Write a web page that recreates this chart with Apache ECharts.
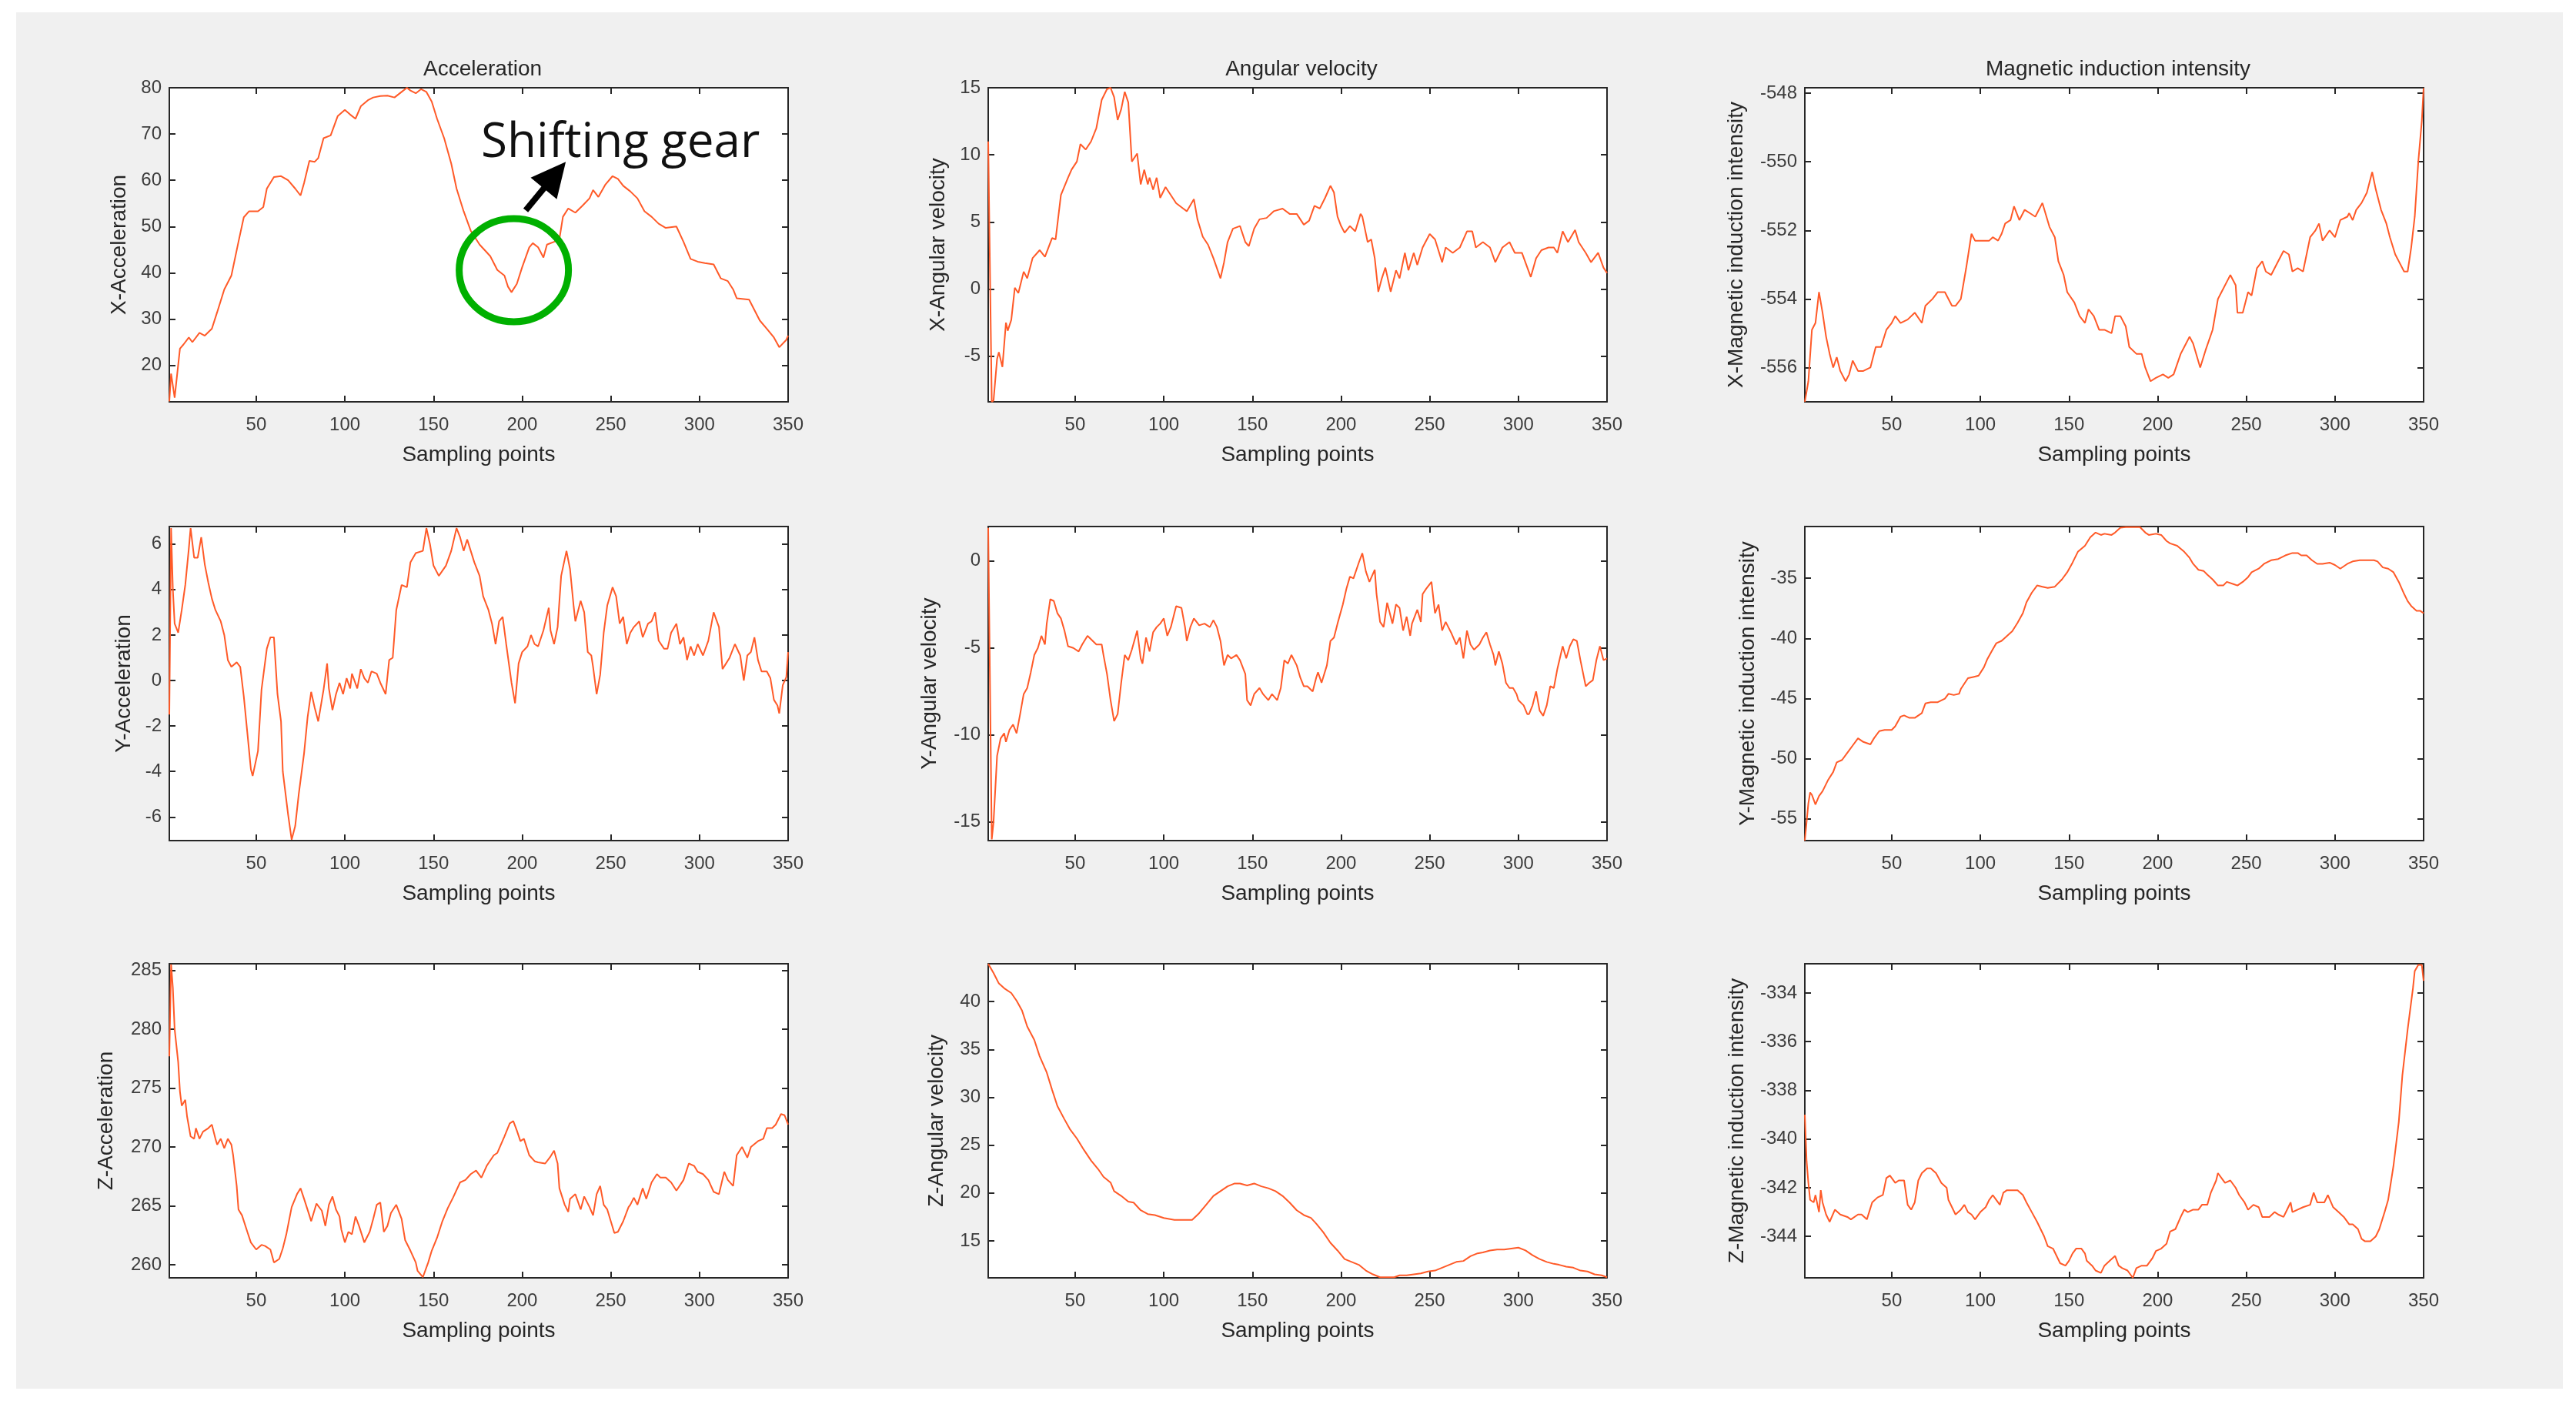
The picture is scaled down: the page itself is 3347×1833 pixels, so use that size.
<!DOCTYPE html>
<html><head><meta charset="utf-8">
<script src="https://cdn.jsdelivr.net/npm/echarts@6/dist/echarts.min.js"></script>
<style>
html,body{margin:0;padding:0;background:#fff;width:3347px;height:1833px;overflow:hidden}
#bg{position:absolute;left:21px;top:16px;width:3309px;height:1788px;background:#f0f0f0}
#chart{position:absolute;left:0;top:0;width:3347px;height:1833px}
</style></head><body><div id="bg"></div><div id="chart"></div>
<script>
// ---------------- data (sampling point, value) ----------------
const sampleTicks = [50,100,150,200,250,300,350];
const columnTitles = ['Acceleration','Angular velocity','Magnetic induction intensity'];
const yNames = ['X-Acceleration','X-Angular velocity','X-Magnetic induction intensity',
                'Y-Acceleration','Y-Angular velocity','Y-Magnetic induction intensity',
                'Z-Acceleration','Z-Angular velocity','Z-Magnetic induction intensity'];

const ticksAccX = [20,30,40,50,60,70,80];
const ticksAngX = [-5,0,5,10,15];
const ticksMagX = [-556,-554,-552,-550,-548];
const ticksAccY = [-6,-4,-2,0,2,4,6];
const ticksAngY = [-15,-10,-5,0];
const ticksMagY = [-55,-50,-45,-40,-35];
const ticksAccZ = [260,265,270,275,280,285];
const ticksAngZ = [15,20,25,30,35,40];
const ticksMagZ = [-344,-342,-340,-338,-336,-334];

const rangeAccX = [12.1, 80];
const rangeAngX = [-8.4, 15];
const rangeMagX = [-557, -547.84];
const rangeAccY = [-7.04, 6.77];
const rangeAngY = [-16.07, 1.98];
const rangeMagY = [-56.8, -30.7];
const rangeAccZ = [258.9, 285.55];
const rangeAngZ = [11.14, 43.96];
const rangeMagZ = [-345.7, -332.8];

const accX = [[1,12.2],[2,18.2],[4,13],[7,23.6],[9,24.5],[12,26],[14,25],[18,27],[21,26.4],[25,27.9],[28,31.5],[32,36.4],[36,39.4],[40,46.7],[43,52],[46,53.3],[51,53.3],[54,54.2],[56,58.2],[60,60.7],[64,60.9],[68,60],[72,58.2],[75,56.7],[77,59.4],[80,64.2],[83,64],[85,64.8],[88,69.1],[92,69.7],[96,73.9],[100,75.2],[103,74.2],[106,73.3],[109,76],[113,77.3],[116,77.9],[120,78.2],[124,78.3],[128,77.9],[132,79.1],[135,80],[137,79.4],[140,78.8],[143,79.7],[146,79.1],[149,77],[152,73.3],[156,69.1],[160,63.6],[163,58.2],[167,53.3],[171,49.1],[176,46.1],[182,43.6],[186,40.6],[190,39.4],[192,37],[194,35.8],[197,37.6],[200,41.2],[204,45.5],[206,46.4],[209,45.5],[212,43.3],[214,46.1],[218,46.7],[221,47.3],[223,52.1],[226,53.9],[230,53],[234,54.5],[238,56.1],[240,57.9],[243,56.4],[247,59.1],[251,60.9],[254,60.3],[257,58.8],[261,57.6],[265,56.1],[269,53.3],[273,52.1],[277,50.6],[281,49.7],[287,50],[291,46.7],[295,43],[299,42.4],[303,42.1],[308,41.8],[312,38.8],[316,38.2],[319,36.4],[321,34.5],[328,34.2],[330,32.7],[334,29.7],[338,27.9],[342,26],[345,23.9],[349,25.5],[350,26.4]];

const angX = [[1,11],[3,-8.4],[4,-8.3],[6,-5.2],[7,-4.7],[9,-5.8],[11,-2.5],[12,-3.1],[14,-2.3],[16,0.1],[18,-0.3],[21,1.3],[23,0.8],[26,2.3],[30,2.9],[33,2.4],[37,3.8],[39,3.7],[42,7],[46,8.3],[48,8.9],[51,9.5],[53,10.8],[56,10.4],[59,11],[62,12],[65,14.1],[68,14.9],[70,15],[72,14.3],[74,12.6],[76,13.4],[78,14.7],[80,13.9],[82,9.5],[85,10.1],[87,7.8],[89,8.9],[91,7.8],[92,8.3],[94,7.4],[96,8.3],[98,6.8],[101,7.6],[104,7],[107,6.4],[111,6],[113,5.8],[117,6.7],[119,5.2],[122,3.9],[125,3.3],[128,2.3],[132,0.8],[134,2],[136,3.5],[139,4.5],[143,4.7],[146,3.5],[148,3.2],[151,4.5],[154,5.2],[158,5.3],[162,5.8],[167,6],[171,5.6],[175,5.6],[179,4.8],[182,5.1],[185,6.2],[188,6],[191,6.8],[194,7.7],[196,7.2],[198,5.4],[200,4.7],[202,4.2],[205,4.7],[208,4.3],[211,5.6],[212,5.4],[215,3.5],[217,3.7],[219,2.3],[221,-0.2],[223,0.8],[225,1.6],[228,-0.2],[231,1.4],[233,0.8],[236,2.7],[238,1.4],[241,2.7],[243,1.8],[246,3.1],[250,4.1],[253,3.7],[257,2],[259,3.1],[263,2.7],[267,3.1],[271,4.3],[274,4.3],[276,3.1],[280,3.5],[284,3.1],[287,2],[291,3.1],[295,3.5],[298,2.7],[302,2.7],[307,0.9],[310,2.3],[313,2.9],[317,3.1],[320,3.1],[322,2.7],[325,4.3],[328,3.5],[332,4.4],[334,3.5],[338,2.7],[341,2],[345,2.7],[348,1.6],[350,1.2]];

const magX = [[1,-557],[3,-556.4],[5,-554.9],[7,-554.7],[9,-553.8],[11,-554.4],[13,-555.1],[15,-555.6],[17,-556],[19,-555.7],[21,-556.1],[24,-556.4],[26,-556.2],[28,-555.8],[31,-556.1],[34,-556.1],[38,-556],[41,-555.4],[44,-555.4],[47,-554.9],[50,-554.7],[52,-554.5],[55,-554.7],[59,-554.6],[63,-554.4],[67,-554.7],[69,-554.2],[73,-554],[76,-553.8],[80,-553.8],[84,-554.2],[86,-554.2],[89,-554],[92,-553.1],[95,-552.1],[97,-552.3],[99,-552.3],[102,-552.3],[105,-552.3],[107,-552.2],[110,-552.3],[112,-552.1],[114,-551.8],[117,-551.7],[119,-551.3],[122,-551.7],[125,-551.4],[128,-551.5],[131,-551.6],[135,-551.2],[139,-551.9],[142,-552.2],[144,-552.9],[147,-553.3],[149,-553.8],[153,-554.1],[156,-554.5],[159,-554.7],[161,-554.3],[164,-554.5],[167,-554.9],[170,-554.9],[174,-555],[176,-554.5],[179,-554.5],[182,-554.8],[184,-555.4],[188,-555.6],[191,-555.6],[193,-556],[196,-556.4],[199,-556.3],[203,-556.2],[206,-556.3],[209,-556.2],[213,-555.6],[215,-555.4],[218,-555.1],[220,-555.3],[224,-556],[227,-555.5],[231,-554.9],[234,-554],[236,-553.8],[239,-553.5],[241,-553.3],[244,-553.6],[245,-554.4],[248,-554.4],[251,-553.8],[253,-553.9],[256,-553.1],[259,-552.9],[261,-553.2],[264,-553.3],[267,-553],[271,-552.6],[274,-552.7],[276,-553.2],[279,-553.1],[282,-553.2],[286,-552.2],[289,-552],[291,-551.8],[293,-552.3],[297,-552],[300,-552.2],[303,-551.7],[307,-551.6],[308,-551.5],[310,-551.7],[312,-551.4],[315,-551.2],[318,-550.9],[321,-550.3],[323,-550.8],[326,-551.4],[329,-551.8],[331,-552.2],[334,-552.7],[336,-552.9],[339,-553.2],[341,-553.2],[343,-552.5],[345,-551.6],[347,-550],[349,-548.8],[350,-547.85]];

const accY = [[1,-1.5],[2,6.7],[3,4],[4,2.5],[6,2.1],[8,3.1],[10,4.2],[12,5.8],[13,6.7],[15,5.4],[17,5.4],[19,6.3],[21,5.1],[23,4.3],[25,3.6],[27,3.1],[30,2.6],[32,2],[34,0.9],[36,0.6],[39,0.8],[41,0.6],[43,-0.7],[45,-2.3],[47,-3.9],[48,-4.2],[51,-3.1],[53,-0.4],[56,1.4],[58,1.9],[60,1.9],[62,-0.6],[64,-1.8],[65,-4],[68,-5.9],[70,-7],[72,-6.4],[74,-5],[77,-3.2],[79,-1.6],[81,-0.5],[83,-1.2],[85,-1.8],[88,-0.4],[90,0.75],[91,-0.35],[93,-1.3],[95,-0.6],[97,-0.1],[99,-0.6],[101,0.1],[103,-0.35],[104,0.3],[107,-0.35],[109,0.5],[111,0.1],[113,-0.1],[115,0.4],[118,0.3],[120,-0.1],[123,-0.6],[125,0.9],[127,1],[129,3.1],[132,4.2],[135,4.1],[137,5.2],[140,5.6],[144,5.7],[146,6.7],[148,6],[150,5.05],[153,4.6],[157,5.05],[160,5.7],[163,6.7],[165,6.3],[167,5.7],[169,6.2],[171,5.7],[173,5.2],[176,4.6],[178,3.7],[181,3.1],[183,2.5],[185,1.6],[187,2.6],[189,2.8],[191,1.6],[194,-0.1],[196,-1],[198,0.75],[200,1.25],[203,1.5],[205,2],[207,1.6],[209,1.5],[212,2.2],[215,3.2],[216,2.2],[218,1.6],[220,2.35],[222,4.6],[225,5.7],[227,4.9],[229,3.3],[230,2.6],[233,3.5],[235,3],[237,1.25],[239,1.1],[240,0.6],[242,-0.6],[244,0.25],[246,2.1],[248,3.3],[251,4.1],[253,3.7],[255,2.5],[257,2.8],[259,1.6],[261,2.1],[263,2.35],[266,2.6],[268,1.9],[271,2.5],[273,2.6],[275,3],[277,1.75],[280,1.4],[282,1.4],[284,2.1],[287,2.5],[289,1.6],[291,1.9],[293,0.9],[295,1.5],[297,1.1],[299,1.6],[302,1.1],[305,1.75],[308,3],[311,2.35],[313,0.5],[315,0.75],[317,1],[320,1.6],[323,1.1],[325,0],[327,1.1],[329,1.25],[331,1.9],[333,0.9],[335,0.4],[338,0.4],[340,0.1],[342,-0.85],[344,-1.1],[345,-1.45],[347,-0.2],[349,0.15],[350,1.25]];

const angY = [[1,1.9],[3,-16],[4,-15],[5,-13.1],[6,-11.2],[8,-10.2],[10,-9.9],[11,-10.4],[13,-9.7],[15,-9.4],[17,-9.9],[19,-8.8],[21,-7.65],[23,-7.3],[25,-6.4],[27,-5.4],[29,-5],[31,-4.3],[33,-4.8],[34,-3.6],[36,-2.2],[38,-2.3],[40,-3],[42,-3.3],[44,-4],[46,-4.9],[49,-5],[52,-5.2],[54,-4.8],[57,-4.3],[59,-4.5],[62,-4.8],[65,-4.8],[66,-5.4],[68,-6.5],[70,-8],[72,-9.2],[74,-8.8],[76,-7],[78,-5.4],[80,-5.7],[82,-5.1],[85,-4],[87,-5.6],[88,-5.9],[90,-4.4],[92,-5.2],[94,-4.1],[96,-3.8],[98,-3.6],[100,-3.3],[102,-4.3],[104,-3.8],[106,-3],[107,-2.6],[110,-2.7],[112,-3.8],[113,-4.6],[115,-3.8],[117,-3.3],[120,-3.7],[123,-3.6],[126,-3.8],[128,-3.4],[130,-3.8],[132,-4.6],[134,-6],[136,-5.4],[138,-5.6],[141,-5.4],[143,-5.7],[146,-6.5],[147,-8],[149,-8.3],[151,-7.65],[154,-7.3],[156,-7.65],[159,-8],[161,-7.65],[164,-8],[166,-7.3],[168,-5.7],[170,-5.9],[172,-5.4],[175,-6],[177,-6.7],[179,-7.2],[181,-7.2],[184,-7.5],[186,-6.7],[187,-6.4],[189,-7],[192,-6],[194,-4.6],[196,-4.4],[198,-3.6],[201,-2.5],[203,-1.6],[205,-0.9],[207,-1],[210,-0.1],[212,0.45],[214,-0.6],[216,-1.2],[219,-0.5],[220,-1.9],[222,-3.5],[224,-3.8],[226,-2.4],[227,-2.8],[229,-3.6],[231,-2.5],[233,-2.7],[235,-4],[237,-3.2],[239,-4.3],[240,-3.6],[243,-2.8],[245,-3.5],[246,-1.9],[248,-1.6],[251,-1.2],[253,-3],[255,-2.5],[257,-4],[259,-3.5],[262,-4.1],[265,-4.8],[267,-4.4],[269,-5.6],[271,-4],[273,-4.8],[275,-5.1],[278,-4.8],[280,-4.4],[282,-4.1],[284,-4.8],[286,-5.4],[287,-6],[289,-5.2],[291,-5.9],[293,-7],[295,-7.3],[297,-7.3],[299,-7.65],[300,-8],[303,-8.3],[305,-8.8],[306,-8.8],[308,-8.3],[310,-7.5],[312,-8.6],[314,-8.9],[316,-8.3],[318,-7.2],[320,-7.3],[322,-6.2],[325,-4.9],[327,-5.6],[329,-4.9],[331,-4.5],[333,-4.6],[335,-5.7],[338,-7.2],[340,-7],[342,-6.85],[344,-5.7],[346,-4.9],[348,-5.7],[350,-5.6]];

const magY = [[1,-56.8],[3,-53.7],[4,-52.8],[5,-53],[7,-53.8],[9,-53.1],[11,-52.7],[14,-51.8],[17,-51.1],[19,-50.3],[22,-50.1],[25,-49.5],[28,-48.9],[31,-48.3],[34,-48.6],[38,-48.8],[40,-48.3],[43,-47.7],[46,-47.6],[50,-47.6],[52,-47.3],[55,-46.5],[57,-46.4],[60,-46.6],[63,-46.6],[67,-46.2],[69,-45.4],[72,-45.3],[76,-45.3],[80,-45],[82,-44.6],[85,-44.7],[88,-44.6],[89,-44.2],[93,-43.3],[96,-43.2],[99,-43.1],[102,-42.4],[104,-41.7],[107,-40.9],[109,-40.4],[112,-40.2],[115,-39.8],[118,-39.4],[121,-38.7],[124,-37.9],[126,-37],[129,-36.2],[132,-35.6],[135,-35.7],[138,-35.8],[142,-35.7],[146,-35.1],[149,-34.5],[152,-33.7],[155,-32.8],[159,-32.3],[162,-31.6],[165,-31.2],[168,-31.4],[170,-31.3],[174,-31.4],[176,-31.2],[179,-30.8],[182,-30.75],[186,-30.75],[190,-30.75],[193,-31.2],[195,-31.4],[199,-31.3],[202,-31.4],[205,-31.9],[207,-32.1],[211,-32.3],[215,-32.8],[218,-33.3],[220,-33.8],[223,-34.3],[226,-34.4],[228,-34.7],[231,-35.1],[234,-35.6],[237,-35.6],[239,-35.3],[243,-35.5],[245,-35.6],[248,-35.3],[251,-34.9],[253,-34.5],[257,-34.2],[260,-33.8],[264,-33.5],[268,-33.4],[272,-33.1],[276,-32.9],[279,-32.9],[281,-33.1],[284,-33.1],[287,-33.5],[290,-33.8],[293,-33.8],[297,-33.7],[300,-33.9],[303,-34.2],[307,-33.8],[310,-33.6],[314,-33.5],[318,-33.5],[322,-33.5],[324,-33.6],[327,-34.1],[330,-34.2],[333,-34.5],[336,-35.3],[339,-36.3],[341,-36.9],[343,-37.3],[346,-37.7],[348,-37.7],[350,-37.9]];

const accZ = [[1,277.7],[2,285.5],[3,283.5],[4,280],[6,277.2],[7,274.7],[8,273.5],[10,274],[11,272.6],[13,270.9],[15,270.7],[16,271.6],[18,270.7],[20,271.3],[23,271.6],[25,271.9],[27,270.7],[28,270.2],[30,270.7],[32,269.9],[34,270.7],[36,270.2],[37,269.3],[39,266.7],[40,264.7],[42,264.2],[45,262.8],[47,261.9],[50,261.3],[53,261.7],[55,261.6],[58,261.3],[60,260.2],[63,260.5],[65,261.4],[67,262.6],[70,264.9],[73,266],[75,266.5],[77,265.6],[80,264.2],[81,263.7],[84,265.2],[87,264.6],[89,263.3],[91,265.1],[93,265.8],[95,264.7],[97,264.1],[98,263],[100,261.9],[102,262.8],[104,262.6],[106,264.1],[108,263.3],[111,261.9],[114,262.8],[116,263.9],[118,265.1],[120,265.3],[122,262.8],[124,263.3],[126,264.4],[129,265.1],[132,263.9],[134,262.1],[137,261.2],[140,260.2],[141,259.5],[144,258.95],[147,260.2],[149,261.2],[152,262.3],[155,263.7],[158,264.8],[161,265.7],[165,267],[168,267.2],[171,267.7],[174,268],[177,267.4],[180,268.4],[184,269.3],[186,269.5],[190,270.9],[193,272],[195,272.2],[197,271.4],[199,270.5],[201,270.7],[204,269.3],[207,268.8],[209,268.7],[213,268.6],[216,269.2],[218,269.7],[220,268.6],[221,266.5],[224,265.1],[226,264.5],[227,265.6],[230,266],[233,264.7],[235,265.8],[238,264.9],[240,264.2],[242,266],[244,266.7],[246,265.1],[248,264.7],[250,263.7],[252,262.7],[254,262.8],[257,263.7],[260,264.9],[261,265.1],[263,265.7],[265,265.1],[268,266.5],[270,265.6],[273,267],[276,267.7],[278,267.4],[281,267.4],[284,267],[287,266.3],[291,267.2],[294,268.6],[297,268.4],[299,267.9],[302,267.7],[305,267.2],[308,266.2],[311,266],[314,267.9],[316,267.2],[319,266.7],[321,269.3],[324,270],[327,269.1],[329,270],[333,270.5],[336,270.7],[338,271.6],[341,271.6],[343,271.9],[346,272.8],[348,272.7],[350,271.9]];

const angZ = [[1,43.95],[4,43],[7,41.9],[10,41.4],[14,40.9],[17,40.1],[20,39.1],[23,37.4],[27,36],[30,34.3],[34,32.6],[37,30.8],[40,29.1],[44,27.7],[47,26.7],[51,25.7],[55,24.5],[59,23.4],[63,22.5],[66,21.7],[70,21.1],[72,20.2],[76,19.7],[80,19.1],[83,19],[87,18.2],[91,17.8],[95,17.7],[100,17.4],[106,17.2],[111,17.2],[116,17.2],[120,17.9],[124,18.8],[128,19.7],[132,20.2],[136,20.7],[140,21],[143,21],[147,20.8],[151,21],[155,20.7],[159,20.5],[163,20.2],[167,19.7],[171,19],[175,18.2],[179,17.7],[183,17.4],[186,16.8],[190,15.9],[194,14.8],[198,14],[202,13.1],[206,12.8],[210,12.5],[214,11.9],[218,11.5],[222,11.2],[226,11.2],[230,11.2],[233,11.4],[237,11.4],[241,11.5],[245,11.6],[249,11.8],[253,11.9],[257,12.2],[261,12.5],[265,12.8],[269,12.9],[273,13.4],[277,13.7],[280,13.8],[284,14],[288,14.1],[292,14.1],[296,14.2],[300,14.3],[304,14],[308,13.5],[312,13.1],[316,12.8],[320,12.6],[323,12.5],[327,12.3],[331,12.2],[335,11.9],[339,11.8],[343,11.5],[347,11.4],[350,11.2]];

const magZ = [[1,-339],[2,-340.9],[3,-341.8],[4,-342.5],[6,-342.6],[7,-342.3],[9,-343],[10,-342.1],[11,-342.6],[13,-343.1],[15,-343.4],[18,-342.9],[21,-343.1],[25,-343.2],[27,-343.3],[31,-343.1],[33,-343.1],[36,-343.3],[39,-342.6],[42,-342.4],[45,-342.3],[47,-341.6],[49,-341.5],[52,-341.8],[54,-341.7],[57,-341.7],[59,-342.7],[61,-342.9],[63,-342.6],[65,-341.7],[67,-341.4],[70,-341.2],[72,-341.2],[75,-341.4],[78,-341.8],[81,-342],[82,-342.5],[84,-342.8],[86,-343.1],[89,-342.9],[91,-342.7],[93,-343],[95,-343.1],[97,-343.3],[100,-343],[103,-342.8],[105,-342.5],[107,-342.3],[109,-342.5],[111,-342.7],[113,-342.2],[115,-342.1],[118,-342.1],[121,-342.1],[124,-342.3],[126,-342.6],[129,-343],[132,-343.4],[134,-343.7],[136,-344],[138,-344.4],[141,-344.5],[143,-344.8],[145,-345.1],[148,-345.2],[150,-345],[152,-344.7],[154,-344.5],[157,-344.5],[159,-344.7],[160,-345],[163,-345.2],[165,-345.4],[168,-345.5],[170,-345.2],[173,-345],[176,-344.8],[178,-345.2],[180,-345.3],[183,-345.4],[186,-345.7],[188,-345.3],[191,-345.2],[194,-345.2],[197,-344.9],[199,-344.6],[202,-344.5],[205,-344.3],[207,-343.8],[210,-343.7],[213,-343.2],[215,-342.9],[217,-343],[220,-342.9],[223,-342.9],[225,-342.7],[228,-342.7],[230,-342.2],[233,-341.7],[234,-341.4],[236,-341.6],[238,-341.8],[241,-341.7],[244,-342],[246,-342.3],[249,-342.6],[251,-342.9],[254,-342.7],[257,-342.8],[259,-343.2],[263,-343.2],[266,-343],[268,-343.1],[271,-343.2],[273,-342.9],[275,-342.6],[276,-343],[279,-342.9],[282,-342.8],[286,-342.7],[288,-342.2],[290,-342.6],[294,-342.6],[296,-342.3],[299,-342.8],[302,-343],[305,-343.2],[308,-343.5],[310,-343.5],[313,-343.7],[315,-344.1],[317,-344.2],[320,-344.2],[323,-344],[325,-343.7],[328,-343],[330,-342.5],[333,-341.1],[336,-339.3],[338,-337.4],[341,-335.5],[344,-333.8],[345,-333.1],[347,-332.85],[349,-332.85],[350,-333.5]];

// annotation anchors in data coordinates of the first panel
const gearCircleCenter = [195.3, 40.56];
const gearArrowTail = [202, 53.5];
const gearArrowTip = [224.6, 64.0];
const gearTextAnchor = [176.8, 68.0];
const gearText = 'Shifting gear';

// ---------------- layout / build ----------------
const panelData = [accX, angX, magX, accY, angY, magY, accZ, angZ, magZ];
const panelTicks = [ticksAccX, ticksAngX, ticksMagX, ticksAccY, ticksAngY, ticksMagY, ticksAccZ, ticksAngZ, ticksMagZ];
const panelRange = [rangeAccX, rangeAngX, rangeMagX, rangeAccY, rangeAngY, rangeMagY, rangeAccZ, rangeAngZ, rangeMagZ];
const nameGaps = [51, 51, 75, 45, 62, 60, 68, 53, 74];

const colLeft = [220, 1284, 2345], rowTop = [114, 684, 1252], W = 804, H = 408;
const FONT = 'Liberation Sans, Arial, sans-serif';
const AX = '#262626';
const LBL = '#3c3c3c';

const grid = [], xAxis = [], yAxis = [], series = [];
for (let i = 0; i < 9; i++) {
  const r = Math.floor(i / 3), c = i % 3;
  grid.push({left: colLeft[c], top: rowTop[r], width: W, height: H, show: true,
             backgroundColor: '#ffffff', borderWidth: 0, containLabel: false});
  ['bottom', 'top'].forEach(pos => {
    const main = pos === 'bottom';
    xAxis.push({type: 'value', gridIndex: i, position: pos, min: 1, max: 350,
      axisLine: {show: true, onZero: false, lineStyle: {color: AX, width: 2}},
      axisTick: {show: true, inside: true, length: 8, customValues: sampleTicks, lineStyle: {color: AX, width: 2}},
      axisLabel: {show: main, customValues: sampleTicks, margin: 18, fontSize: 24, color: LBL, fontFamily: FONT,
                  showMinLabel: true, showMaxLabel: true},
      splitLine: {show: false},
      name: main ? 'Sampling points' : '', nameLocation: 'middle', nameGap: 55,
      nameTextStyle: {fontSize: 28, color: AX, fontFamily: FONT}
    });
  });
  ['left', 'right'].forEach(pos => {
    const main = pos === 'left';
    yAxis.push({type: 'value', gridIndex: i, position: pos, min: panelRange[i][0], max: panelRange[i][1],
      axisLine: {show: true, onZero: false, lineStyle: {color: AX, width: 2}},
      axisTick: {show: true, inside: true, length: 8, customValues: panelTicks[i], lineStyle: {color: AX, width: 2}},
      axisLabel: {show: main, customValues: panelTicks[i], margin: 10, fontSize: 24, color: LBL, fontFamily: FONT,
                  showMinLabel: true, showMaxLabel: true},
      splitLine: {show: false},
      name: main ? yNames[i] : '', nameLocation: 'middle', nameRotate: 90, nameGap: nameGaps[i],
      nameTextStyle: {fontSize: 28, color: AX, fontFamily: FONT}
    });
  });
  series.push({type: 'line', xAxisIndex: 2 * i, yAxisIndex: 2 * i, data: panelData[i],
    showSymbol: false, symbol: 'none', clip: true, silent: true, smooth: false,
    lineStyle: {color: '#ff5a28', width: 2}});
}

const title = columnTitles.map((t, c) => ({text: t, left: colLeft[c] + W / 2, top: 71, textAlign: 'center',
  textStyle: {fontSize: 28, fontWeight: 'normal', color: AX, fontFamily: FONT}}));

const chart = echarts.init(document.getElementById('chart'), null, {renderer: 'canvas', width: 3347, height: 1833});
chart.setOption({animation: false, backgroundColor: 'transparent', title, grid, xAxis, yAxis, series});

// annotation placed through the first panel's scales
const px = p => chart.convertToPixel({seriesIndex: 0}, p);
const cc = px(gearCircleCenter), tail = px(gearArrowTail), tip = px(gearArrowTip), ta = px(gearTextAnchor);
const dx = tip[0] - tail[0], dy = tip[1] - tail[1], len = Math.hypot(dx, dy);
const ux = dx / len, uy = dy / len, headL = 45, headW = 22;
const bx = tip[0] - ux * headL, by = tip[1] - uy * headL;
chart.setOption({graphic: [
  {type: 'ellipse', z: 100, shape: {cx: cc[0], cy: cc[1], rx: 71, ry: 67},
   style: {fill: 'none', stroke: '#00b000', lineWidth: 9}},
  {type: 'line', z: 100, shape: {x1: tail[0], y1: tail[1], x2: bx + ux * 4, y2: by + uy * 4},
   style: {stroke: '#000', lineWidth: 8}},
  {type: 'polygon', z: 100, shape: {points: [[tip[0], tip[1]], [bx - uy * headW, by + ux * headW], [bx + uy * headW, by - ux * headW]]},
   style: {fill: '#000'}},
  {type: 'text', z: 100, x: ta[0], y: ta[1],
   style: {text: gearText, fontSize: 62, fontFamily: 'Open Sans', fill: '#111', align: 'left', verticalAlign: 'middle'}}
]});
</script></body></html>
